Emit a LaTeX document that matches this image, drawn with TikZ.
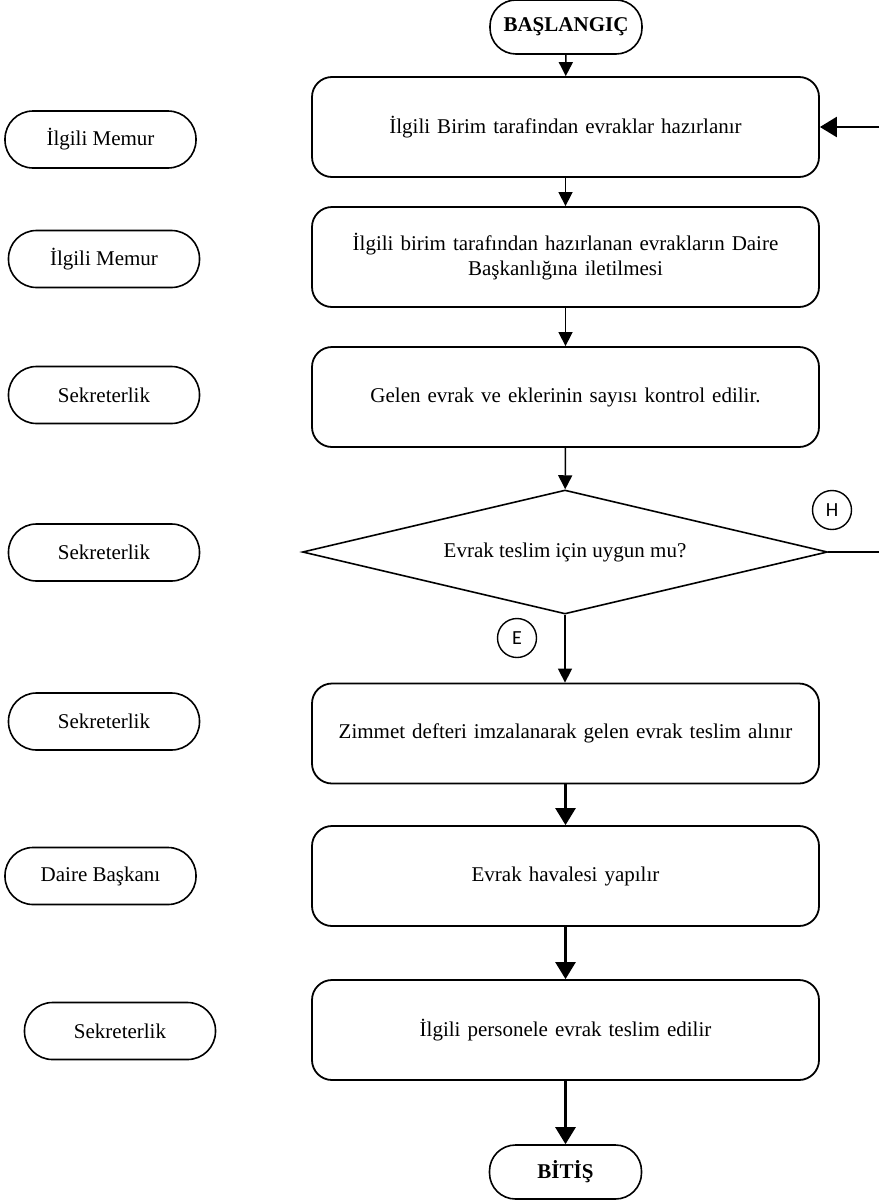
\documentclass[tikz,border=0pt]{standalone}
\usepackage{fontspec}
\setmainfont{Liberation Serif}
\newfontfamily\lblfont{Carlito}
\usetikzlibrary{arrows.meta,shapes.geometric}
\begin{document}
\begin{tikzpicture}[x=1pt,y=-1pt,
  every node/.style={font=\fontsize{21}{25}\selectfont},
  procbox/.style={draw,line width=1.8pt,rounded corners=20pt,minimum width=507pt,minimum height=100pt,inner sep=0pt,align=center,text width=470pt},
  pill/.style={draw,line width=1.6pt,rounded corners=28pt,minimum width=191pt,minimum height=57pt,inner sep=0pt},
  term/.style={draw,line width=1.6pt,rounded corners=26pt,minimum width=152pt,minimum height=54pt,inner sep=0pt,font=\fontsize{21}{25}\selectfont\bfseries},
  decis/.style={draw,line width=1.6pt,diamond,shape aspect=4.23,minimum width=525pt,minimum height=124pt,inner sep=0pt},
  conn/.style={draw,line width=1.4pt,circle,minimum size=39pt,inner sep=0pt,font=\lblfont\fontsize{20}{24}\selectfont},
  thinarrow/.style={line width=1.5pt,-{Triangle[width=14pt,length=14pt]}},
  thickarrow/.style={line width=2.6pt,-{Triangle[width=20pt,length=17pt]}},
  thickline/.style={line width=2.6pt}
]
\useasboundingbox (0,0) rectangle (879,1202);

\node[term] (start) at (566,27) {BAŞLANGIÇ};
\node[procbox] (b1) at (565.5,127) {İlgili Birim tarafindan evraklar hazırlanır};
\node[procbox] (b2) at (565.5,257) {İlgili birim tarafından hazırlanan evrakların Daire\\Başkanlığına iletilmesi};
\node[procbox] (b3) at (565.5,397) {Gelen evrak ve eklerinin sayısı kontrol edilir.};
\node[decis] (d) at (565,552) {Evrak teslim için uygun mu?};
\node[procbox] (b4) at (565.5,733.5) {Zimmet defteri imzalanarak gelen evrak teslim alınır};
\node[procbox] (b5) at (565.5,876) {Evrak havalesi yapılır};
\node[procbox] (b6) at (565.5,1030) {İlgili personele evrak teslim edilir};
\node[term] (end) at (565.5,1172) {BİTİŞ};

\node[pill] (p1) at (100.5,139.5) {İlgili Memur};
\node[pill] (p2) at (104,259) {İlgili Memur};
\node[pill] (p3) at (104,395) {Sekreterlik};
\node[pill] (p4) at (104,552.5) {Sekreterlik};
\node[pill] (p5) at (104,721.5) {Sekreterlik};
\node[pill] (p6) at (100.5,876) {Daire Başkanı};
\node[pill] (p7) at (120,1031) {Sekreterlik};

\node[conn] (h) at (832,510) {H};
\node[conn] (e) at (517,638) {E};

\coordinate (rin) at (879,127);
\coordinate (rout) at (879,552);

\draw[thinarrow] (start) -- (b1);
\draw[thinarrow] (b1) -- (b2);
\draw[thinarrow] (b2) -- (b3);
\draw[thinarrow] (b3) -- (d);
\draw[thinarrow] (d.south) -- (b4.north -| d.south);
\draw[thickarrow] (b4) -- (b5);
\draw[thickarrow] (b5) -- (b6);
\draw[thickarrow] (b6) -- (end);
\draw[thickline] (d.east) -- (rout);
\draw[thickarrow] (rin) -- (b1.east);
\end{tikzpicture}
\end{document}
